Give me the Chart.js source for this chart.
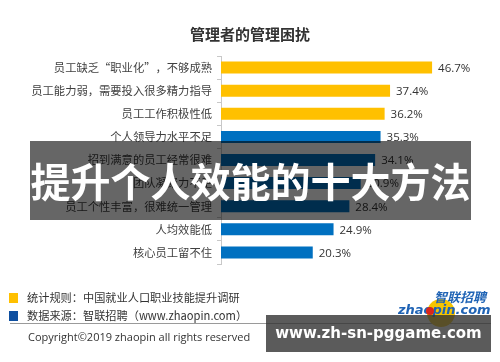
<!DOCTYPE html>
<html>
<head>
<meta charset="utf-8">
<script src="https://cdn.jsdelivr.net/npm/chart.js@4.4.1/dist/chart.umd.min.js"></script>
<style>
  html, body { margin: 0; padding: 0; background: #fff; }
  #wrap { position: relative; width: 500px; height: 362px; overflow: hidden; font-family: "Noto Sans CJK SC", "Noto Sans", sans-serif; }
  #chart { position: absolute; left: 0; top: 0; }
  .title { position: absolute; left: 0; top: 24px; width: 500px; text-align: center; font-size: 15px; font-weight: bold; color: #333; line-height: 20px; }
  .band { position: absolute; left: 30px; top: 141px; width: 441px; height: 79px; background: rgba(0,0,0,0.6);
          color: #fff; font-weight: bold; font-size: 40px; line-height: 79px; text-align: center; white-space: nowrap; }
  .legend { position: absolute; left: 9px; font-size: 11.2px; color: #333; line-height: 14px; white-space: nowrap; }
  .legend i { display: inline-block; width: 9px; height: 10px; vertical-align: -1px; margin-right: 9px; }
  .rule { position: absolute; left: 10px; top: 323px; width: 481px; height: 1px; background: #9a9a9a; }
  .copy { position: absolute; left: 28px; top: 329px; font-size: 11px; color: #333; font-family: "Open Sans", "Noto Sans", sans-serif; white-space: nowrap; }
  .logo1 { position: absolute; left: 434px; top: 287px; font-size: 13px; font-weight: bold; font-style: italic; color: #1f63b5; white-space: nowrap; }
  .dot { position: absolute; left: 427px; top: 299px; width: 28px; height: 28px; border-radius: 50%; background: #f5c400; }
  .reddot { position: absolute; left: 426px; top: 307px; width: 8px; height: 8px; border-radius: 50%; background: #d9261c; }
  .logo2 { position: absolute; left: 398px; top: 302px; font-size: 13px; font-weight: bold; font-style: italic; color: #1f63b5; font-family: "DejaVu Sans", sans-serif; white-space: nowrap; }
  .mark { position: absolute; left: 266px; top: 315px; width: 225px; height: 37px; background: rgba(50,50,50,0.8);
          color: #fff; font-weight: bold; font-size: 15px; line-height: 37px; text-align: center; font-family: "DejaVu Sans", sans-serif; white-space: nowrap; }
</style>
</head>
<body>
<div id="wrap">
  <canvas id="chart" width="500" height="362"></canvas>
  <div class="title">管理者的管理困扰</div>
  <div class="band">提升个人效能的十大方法</div>
  <div class="legend" style="top:290px"><i style="background:#ffc000"></i>统计规则：中国就业人口职业技能提升调研</div>
  <div class="legend" style="top:308px"><i style="background:#0e4fa0"></i>数据来源：智联招聘（www.zhaopin.com）</div>
  <div class="rule"></div>
  <div class="copy">Copyright©2019 zhaopin all rights reserved</div>
  <div class="dot"></div>
  <div class="logo1">智联招聘</div>
  <div class="logo2">zhaopin.com</div>
  <div class="reddot"></div>
  <div class="mark">www.zh-sn-pggame.com</div>
</div>
<script>
const categories = [
  "员工缺乏“职业化”，不够成熟",
  "员工能力弱，需要投入很多精力指导",
  "员工工作积极性低",
  "个人领导力水平不足",
  "招到满意的员工经常很难",
  "团队凝聚力不足",
  "员工个性丰富，很难统一管理",
  "人均效能低",
  "核心员工留不住"
];
const values = [46.7, 37.4, 36.2, 35.3, 34.1, 30.9, 28.4, 24.9, 20.3];
const yellowCount = 3;

const barColors = values.map((v, i) => i < yellowCount ? "#ffc000" : "#0070c0");

// value labels at the end of each bar
const valueLabels = {
  id: "valueLabels",
  afterDatasetsDraw(chart) {
    const ctx = chart.ctx;
    const meta = chart.getDatasetMeta(0);
    ctx.save();
    ctx.font = "11.5px 'Open Sans', 'Noto Sans', sans-serif";
    ctx.fillStyle = "#333";
    ctx.textBaseline = "middle";
    meta.data.forEach((bar, i) => {
      ctx.fillText(values[i].toFixed(1) + "%", bar.x + 6, bar.y + 1);
    });
    ctx.restore();
  }
};

new Chart(document.getElementById("chart"), {
  type: "bar",
  data: {
    labels: categories,
    datasets: [{
      data: values,
      backgroundColor: barColors,
      borderWidth: 0,
      categoryPercentage: 1,
      barPercentage: 0.52
    }]
  },
  options: {
    indexAxis: "y",
    responsive: false,
    animation: false,
    layout: { padding: { left: 0, right: 53, top: 56, bottom: 98 } },
    plugins: {
      legend: { display: false },
      tooltip: { enabled: false }
    },
    scales: {
      x: { display: false, min: 0, max: 50 },
      y: {
        afterFit(scale) { scale.width = 221; },
        grid: { drawOnChartArea: false, tickLength: 4, color: "#c8c8c8" },
        border: { color: "#c8c8c8" },
        ticks: {
          color: "#404040",
          padding: 5,
          font: { size: 11.3, family: "'Noto Sans CJK SC', sans-serif" }
        }
      }
    }
  },
  plugins: [valueLabels]
});
</script>
</body>
</html>
